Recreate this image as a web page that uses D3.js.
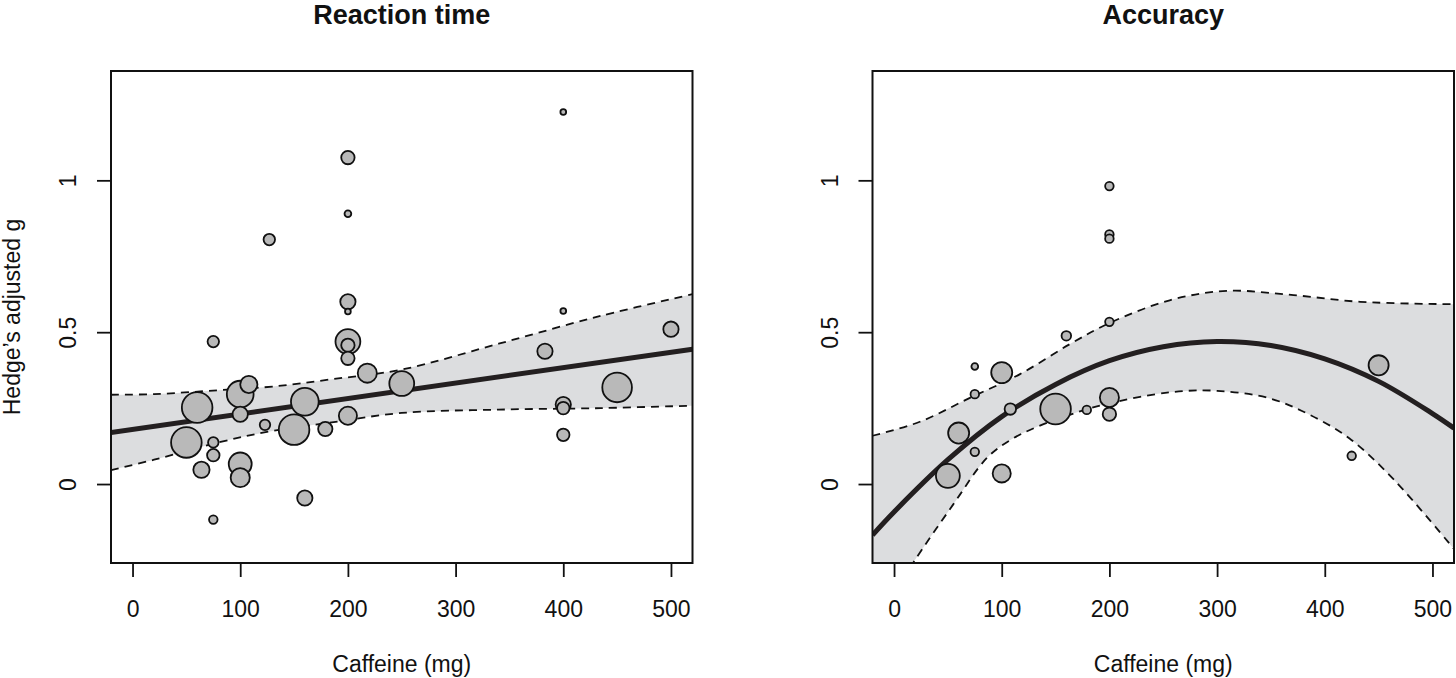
<!DOCTYPE html>
<html>
<head>
<meta charset="utf-8">
<script src="https://cdn.jsdelivr.net/npm/d3@7"></script>
<style>
    body { margin: 0; background: #fff; }
    svg text { font-family: "Liberation Sans", Arial, Helvetica, sans-serif; fill: #111; }
</style>
</head>
<body>
<div id="chart"></div>
<script>
// ---- data ----
const xTicks = [0, 100, 200, 300, 400, 500]
const yTicks = [0, 0.5, 1]

// Reaction time: studies (dose in mg, Hedge's g, relative weight)
const rtDose = [200, 200, 75, 200, 200, 200, 218, 250, 60, 100, 108, 100, 160, 123, 150, 179, 200, 50, 75, 75,
    100, 64, 100, 160, 75, 200, 200, 127, 400, 400, 383, 500, 450, 400, 400, 400]
const rtG = [0.600, 0.568, 0.469, 0.469, 0.457, 0.414, 0.365, 0.331, 0.252, 0.296, 0.328, 0.230, 0.271, 0.195,
    0.179, 0.181, 0.225, 0.137, 0.137, 0.095, 0.066, 0.047, 0.021, -0.046, -0.117, 1.075, 0.890, 0.805,
    1.225, 0.570, 0.437, 0.510, 0.318, 0.262, 0.250, 0.162]
const rtWeight = [1.28, 0.18, 0.72, 3.38, 0.98, 0.98, 2.0, 3.38, 5.12, 3.92, 1.62, 1.28, 4.2, 0.6, 5.12, 1.12,
    1.8, 5.12, 0.6, 0.85, 2.88, 1.45, 2.0, 1.28, 0.4, 0.98, 0.25, 0.72, 0.18, 0.18, 1.28, 1.28, 4.8, 1.28, 0.85, 0.85]

// Reaction time: fitted line and 95% band
const rtFitDose = [-20, 520]
const rtFit = [0.170, 0.444]
const rtBandDose = [-20, 20, 80, 130, 185, 250, 340, 435, 520]
const rtUpper = [0.294, 0.296, 0.309, 0.321, 0.345, 0.377, 0.462, 0.554, 0.625]
const rtLower = [0.046, 0.080, 0.137, 0.175, 0.203, 0.234, 0.245, 0.250, 0.258]

// Accuracy: studies
const accDose = [75, 100, 75, 108, 150, 179, 200, 200, 160, 200, 60, 75, 50, 100, 200, 200, 200, 450, 425]
const accG = [0.387, 0.367, 0.296, 0.247, 0.247, 0.244, 0.285, 0.230, 0.488, 0.534, 0.168, 0.106, 0.027,
    0.035, 0.981, 0.822, 0.808, 0.391, 0.093]
const accWeight = [0.25, 2.42, 0.4, 0.72, 5.12, 0.4, 2.0, 0.98, 0.5, 0.4, 2.42, 0.4, 3.12, 1.8, 0.4, 0.4, 0.4, 2.2, 0.4]

// Accuracy: fitted curve and 95% band
const accFitDose = [-20, 0, 50, 100, 150, 200, 250, 300, 350, 400, 450, 500, 520]
const accFit = [-0.168, -0.092, 0.080, 0.222, 0.328, 0.406, 0.452, 0.469, 0.456, 0.412, 0.338, 0.232, 0.184]
const accUpDose = [-20, 24, 70, 117, 163, 200, 256, 309, 371, 433, 520]
const accUpper = [0.159, 0.205, 0.283, 0.362, 0.460, 0.530, 0.605, 0.636, 0.622, 0.600, 0.592]
const accLowDose = [-20, 0, 18, 55, 86, 108, 134, 170, 194, 256, 300, 349, 386, 423, 464, 520]
const accLower = [-0.470, -0.360, -0.258, -0.067, 0.085, 0.145, 0.190, 0.236, 0.261, 0.302, 0.307, 0.282,
    0.228, 0.150, 0.015, -0.214]

// ---- layout ----
const WIDTH = 1456, HEIGHT = 678
const TOP = 71, BOTTOM = 563
const doseDomain = [-20, 520]
const gDomain = [-0.26, 1.36]

const svg = d3.select("#chart").append("svg")
    .attr("width", WIDTH)
    .attr("height", HEIGHT)
const defs = svg.append("defs")

const size = d3.scaleSqrt().domain([0, 5.12]).range([0, 15.3])

function drawPanel(cfg) {
    const x = d3.scaleLinear().domain(doseDomain).range([cfg.left, cfg.right])
    const y = d3.scaleLinear().domain(gDomain).range([BOTTOM, TOP])

    defs.append("clipPath").attr("id", cfg.id)
        .append("rect")
        .attr("x", cfg.left).attr("y", TOP)
        .attr("width", cfg.right - cfg.left).attr("height", BOTTOM - TOP)

    const g = svg.append("g")
    const plot = g.append("g").attr("clip-path", `url(#${cfg.id})`)

    const line = d3.line()
        .x(d => x(d[0]))
        .y(d => y(d[1]))
        .curve(d3.curveCatmullRom)

    const upper = d3.zip(cfg.upDose, cfg.upper)
    const lower = d3.zip(cfg.lowDose, cfg.lower)

    // band between the dashed limits
    const band = line(upper) + "L" + line(lower.slice().reverse()).slice(1) + "Z"
    plot.append("path")
        .attr("d", band)
        .attr("fill", "#dcdddf")

    plot.selectAll(".ci")
        .data([upper, lower])
        .enter().append("path")
        .attr("class", "ci")
        .attr("d", line)
        .attr("fill", "none")
        .attr("stroke", "#111")
        .attr("stroke-width", 1.8)
        .attr("stroke-dasharray", "8,6")

    plot.append("path")
        .attr("d", line(d3.zip(cfg.fitDose, cfg.fit)))
        .attr("fill", "none")
        .attr("stroke", "#231f20")
        .attr("stroke-width", 5)

    // studies, big ones first so small ones stay visible
    const studies = cfg.dose.map((d, i) => ({ dose: d, g: cfg.g[i], w: cfg.weight[i] }))
        .sort((a, b) => b.w - a.w)
    plot.selectAll("circle")
        .data(studies)
        .enter().append("circle")
        .attr("cx", d => x(d.dose))
        .attr("cy", d => y(d.g))
        .attr("r", d => size(d.w))
        .attr("fill", "#b9b9b9")
        .attr("stroke", "#111")
        .attr("stroke-width", 1.8)

    g.append("rect")
        .attr("x", cfg.left).attr("y", TOP)
        .attr("width", cfg.right - cfg.left).attr("height", BOTTOM - TOP)
        .attr("fill", "none")
        .attr("stroke", "#111")
        .attr("stroke-width", 2)

    // axes
    const xAxisCall = d3.axisBottom(x)
        .tickValues(xTicks)
        .tickSize(14)
        .tickPadding(24)
        .tickFormat(d3.format("d"))
    const xAxis = g.append("g")
        .attr("transform", `translate(0, ${BOTTOM})`)
        .call(xAxisCall)
    xAxis.select(".domain").remove()

    const yAxisCall = d3.axisLeft(y)
        .tickValues(yTicks)
        .tickSize(14)
        .tickFormat(d => String(d))
    const yAxis = g.append("g")
        .attr("transform", `translate(${cfg.left}, 0)`)
        .call(yAxisCall)
    yAxis.select(".domain").remove()
    yAxis.selectAll("text")
        .attr("x", null)
        .attr("dy", null)
        .attr("text-anchor", "middle")
        .attr("transform", "translate(-35, 0) rotate(-90)")

    g.selectAll(".tick line").attr("stroke", "#111").attr("stroke-width", 1.8)
    g.selectAll(".tick text").style("font-size", "23px")

    // labels
    g.append("text")
        .attr("x", (cfg.left + cfg.right) / 2)
        .attr("y", 24)
        .attr("text-anchor", "middle")
        .style("font-size", "27px")
        .style("font-weight", "bold")
        .text(cfg.title)

    g.append("text")
        .attr("x", (cfg.left + cfg.right) / 2)
        .attr("y", 672)
        .attr("text-anchor", "middle")
        .style("font-size", "23px")
        .text("Caffeine (mg)")

    if (cfg.yLabel) {
        g.append("text")
            .attr("transform", `translate(20, ${(TOP + BOTTOM) / 2}) rotate(-90)`)
            .attr("text-anchor", "middle")
            .style("font-size", "23px")
            .text(cfg.yLabel)
    }
}

drawPanel({
    id: "clip-rt", left: 111, right: 692.5, title: "Reaction time", yLabel: "Hedge\u2019s adjusted g",
    dose: rtDose, g: rtG, weight: rtWeight,
    fitDose: rtFitDose, fit: rtFit,
    upDose: rtBandDose, upper: rtUpper, lowDose: rtBandDose, lower: rtLower
})

drawPanel({
    id: "clip-acc", left: 872.5, right: 1454, title: "Accuracy", yLabel: null,
    dose: accDose, g: accG, weight: accWeight,
    fitDose: accFitDose, fit: accFit,
    upDose: accUpDose, upper: accUpper, lowDose: accLowDose, lower: accLower
})
</script>
</body>
</html>
